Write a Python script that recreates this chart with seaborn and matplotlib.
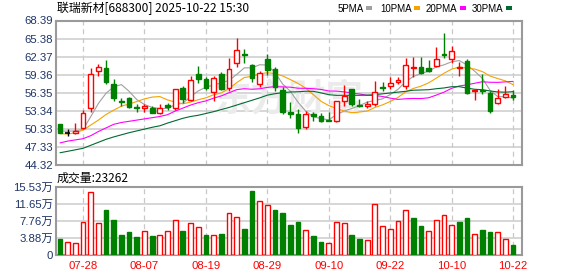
import numpy as np
import pandas as pd
import matplotlib
matplotlib.use("Agg")
import matplotlib.pyplot as plt
from matplotlib.patches import Rectangle
import seaborn as sns

# ---------------- data ----------------
dates = ['07-23', '07-24', '07-25', '07-28', '07-29', '07-30', '07-31', '08-01', '08-04', '08-05',
         '08-06', '08-07', '08-08', '08-11', '08-12', '08-13', '08-14', '08-15', '08-18', '08-19',
         '08-20', '08-21', '08-22', '08-25', '08-26', '08-27', '08-28', '08-29', '09-01', '09-02',
         '09-03', '09-04', '09-05', '09-08', '09-09', '09-10', '09-11', '09-12', '09-15', '09-16',
         '09-17', '09-18', '09-19', '09-22', '09-23', '09-24', '09-25', '09-26', '09-29', '09-30',
         '10-09', '10-10', '10-13', '10-14', '10-15', '10-16', '10-17', '10-20', '10-21', '10-22']

open_ = [51.13, 49.62, 49.64, 50.42, 53.84, 59.98, 60.48, 57.73, 54.95, 55.40,
         53.96, 53.85, 53.79, 53.01, 54.29, 53.84, 57.16, 55.07, 59.55, 58.60,
         56.50, 59.55, 57.16, 61.38, 62.87, 61.05, 57.83, 61.93, 60.27, 56.73,
         53.07, 52.74, 50.58, 52.84, 52.46, 51.80, 51.68, 55.00, 56.94, 54.30,
         54.17, 54.50, 57.33, 57.44, 58.22, 57.50, 60.49, 60.60, 60.48, 60.82,
         62.87, 62.04, 60.43, 61.60, 56.66, 56.78, 56.33, 54.57, 55.61, 55.95]
high = [51.20, 50.25, 51.25, 53.46, 60.55, 61.21, 61.76, 58.60, 55.50, 55.67,
        54.50, 54.50, 54.17, 54.40, 54.73, 57.00, 57.44, 59.10, 60.76, 58.99,
        59.10, 59.82, 62.21, 65.47, 63.70, 61.21, 59.98, 62.76, 60.65, 57.33,
        54.84, 53.62, 53.29, 53.07, 52.91, 53.17, 55.05, 57.61, 57.00, 55.28,
        54.95, 58.27, 58.16, 58.99, 58.99, 62.15, 62.26, 62.26, 61.81, 63.92,
        66.30, 64.09, 61.48, 62.04, 56.90, 59.55, 56.61, 57.06, 57.44, 56.78]
low = [49.60, 49.14, 49.42, 50.25, 53.07, 59.15, 57.73, 54.95, 54.12, 53.79,
       53.17, 53.07, 52.91, 52.74, 53.46, 53.50, 54.65, 54.95, 58.06, 56.73,
       55.00, 56.78, 56.61, 60.65, 61.38, 58.16, 57.28, 59.39, 56.60, 52.74,
       52.18, 49.59, 50.25, 51.68, 51.41, 51.68, 51.51, 54.12, 54.12, 53.90,
       53.84, 54.17, 56.66, 56.94, 57.89, 56.94, 58.99, 59.55, 59.82, 60.71,
       62.21, 61.38, 59.15, 56.23, 55.12, 56.23, 52.91, 54.50, 55.50, 55.12]
close = [49.62, 49.62, 50.02, 53.01, 59.55, 60.65, 58.16, 55.40, 54.80, 53.96,
         53.74, 54.07, 53.01, 53.84, 54.02, 56.94, 55.28, 58.44, 58.60, 57.16,
         58.82, 57.06, 60.38, 63.54, 62.71, 58.82, 59.65, 60.10, 57.33, 53.07,
         52.84, 50.52, 52.74, 52.51, 51.68, 51.70, 54.95, 55.83, 54.45, 54.20,
         54.50, 56.40, 57.16, 58.06, 58.44, 60.93, 60.71, 59.65, 59.98, 62.04,
         62.64, 63.26, 60.65, 56.33, 56.83, 56.70, 53.29, 55.45, 56.11, 55.73]
# volume in 万 (10k)
volume = [3.65, 2.89, 2.66, 7.46, 14.30, 7.23, 10.27, 7.99, 4.56, 5.17,
          4.11, 5.40, 4.34, 4.49, 5.48, 7.91, 5.48, 7.23, 6.31, 4.56,
          4.49, 4.79, 9.51, 8.60, 5.93, 14.60, 12.25, 11.41, 10.27, 9.59,
          6.85, 7.53, 5.63, 4.34, 2.97, 2.66, 7.46, 7.23, 4.56, 3.65,
          3.35, 11.56, 6.54, 5.93, 7.68, 10.19, 8.44, 6.62, 5.40, 7.91,
          9.05, 6.77, 7.53, 8.44, 4.72, 5.63, 5.25, 5.17, 3.58, 2.3262]

# moving-average values before a full window exists
ma5_head = [50.00, 49.95, 50.00, 50.25]
ma10_head = [49.55, 49.46, 49.70, 50.13, 50.97, 51.80, 52.74, 53.46, 54.12]
ma20_head = [48.00, 48.30, 48.50, 48.70, 49.20, 49.90, 50.50, 51.10, 51.40, 51.60,
             51.80, 52.00, 52.20, 52.40, 52.70, 53.30, 53.80, 54.30, 54.70]
ma30_head = [46.36, 46.60, 46.85, 47.10, 47.60, 48.10, 48.60, 49.00, 49.35, 49.70,
             50.00, 50.30, 50.60, 50.85, 51.30, 51.70, 52.10, 52.40, 52.60, 52.90,
             53.20, 53.55, 53.90, 54.30, 54.70, 55.10, 55.50, 55.95, 56.20]

price_ticks = [44.32, 47.33, 50.33, 53.34, 56.35, 59.36, 62.37, 65.38, 68.39]
price_tick_labels = ['44.32', '47.33', '50.33', '53.34', '56.35', '59.36', '62.37', '65.38', '68.39']
vol_ticks = [0, 3.88, 7.76, 11.65, 15.53]
vol_tick_labels = ['0', '3.88万', '7.76万', '11.65万', '15.53万']
date_tick_idx = [3, 11, 19, 27, 35, 43, 51, 59]

title_text = '联瑞新材[688300] 2025-10-22 15:30'
vol_title = '成交量:23262'
ma_names = ['5PMA', '10PMA', '20PMA', '30PMA']

# ---------------- style ----------------
sns.set_style('white')
plt.rcParams['font.family'] = ['Liberation Sans', 'Noto Sans CJK SC']
plt.rcParams['axes.unicode_minus'] = False

RED = '#ff0000'
GREEN = '#008000'
MA_COLORS = ['#a0a0a0', '#f5a300', '#ff00ff', '#006a30']
TICK_COLOR = '#1e3466'
GRID = '#cccccc'
FRAME = '#9a9a9a'

o = np.array(open_); h = np.array(high); l = np.array(low); c = np.array(close)
v = np.array(volume)
n = len(c)
x = np.arange(n)

cs = pd.Series(c)
def ma(period, head):
    s = cs.rolling(period).mean().to_numpy()
    s[:period - 1] = head
    return s

mas = [ma(5, ma5_head), ma(10, ma10_head), ma(20, ma20_head), ma(30, ma30_head)]
df_ma = pd.DataFrame({'x': np.tile(x, 4),
                      'val': np.concatenate(mas),
                      'ma': np.repeat(ma_names, n)})

W, H = 578, 276
fig = plt.figure(figsize=(W / 100, H / 100), dpi=100)
L, R = 56, 522
ax = fig.add_axes([L / W, 1 - 165 / H, (R - L) / W, (165 - 20.5) / H])
axv = fig.add_axes([L / W, 1 - 255 / H, (R - L) / W, (255 - 187) / H])

xlim = (-0.52, 60.16)

for a in (ax, axv):
    a.set_xlim(*xlim)
    for sp in a.spines.values():
        sp.set_color(FRAME)
        sp.set_linewidth(1.5)
    a.tick_params(length=0, labelsize=8.2, colors=TICK_COLOR, pad=2)
    for xi in date_tick_idx:
        a.axvline(xi, color='#c8c8c8', lw=0.9, ls=(0, (4, 3)), zorder=0)

# price axis grid
ax.set_ylim(44.32, 68.39)
ax.set_yticks(price_ticks)
ax.set_yticklabels(price_tick_labels)
for t in price_ticks[1:-1]:
    ax.axhline(t, color=GRID, lw=1.1, zorder=0)
ax.set_xticks([])

# watermark
ax.text(0.5, 0.45, '东方财富', transform=ax.transAxes, ha='center', va='center',
        fontsize=27, color='#ebebeb', family=['Noto Sans CJK SC'], fontweight='bold', zorder=0.5)

# MA lines via seaborn
sns.lineplot(data=df_ma, x='x', y='val', hue='ma', palette=dict(zip(ma_names, MA_COLORS)),
             ax=ax, lw=0.8, legend=False, zorder=2, estimator=None, sort=False)
ax.set_xlabel('')
ax.set_ylabel('')

# candles
up = c > o
dn = c < o
fl = c == o
bw = 0.62
ax.vlines(x[up], l[up], h[up], color=RED, lw=1.0, zorder=3)
ax.vlines(x[dn], l[dn], h[dn], color=GREEN, lw=1.0, zorder=3)
ax.vlines(x[fl], l[fl], h[fl], color='black', lw=1.0, zorder=3)
bot = np.minimum(o, c)
hgt = np.maximum(np.abs(c - o), 0.12)
ax.bar(x[up], hgt[up], bottom=bot[up], width=bw, facecolor='white', edgecolor=RED, lw=1.0, zorder=4)
ax.bar(x[dn], hgt[dn], bottom=bot[dn], width=bw, facecolor=GREEN, edgecolor=GREEN, lw=1.0, zorder=4)
ax.hlines(c[fl], x[fl] - bw / 2, x[fl] + bw / 2, color='black', lw=1.2, zorder=4)

# volume
prev = np.concatenate([[o[0]], c[:-1]])
vup = c >= prev
axv.set_ylim(0, 15.53)
axv.set_yticks(vol_ticks)
axv.set_yticklabels(vol_tick_labels)
for t in vol_ticks[1:-1]:
    axv.axhline(t, color=GRID, lw=1.1, zorder=0)
axv.bar(x[vup], v[vup], width=bw, facecolor='white', edgecolor=RED, lw=1.0, zorder=3)
axv.bar(x[~vup], v[~vup], width=bw, facecolor=GREEN, edgecolor=GREEN, lw=1.0, zorder=3)
axv.set_xticks(date_tick_idx)
axv.set_xticklabels([dates[i] for i in date_tick_idx])
axv.tick_params(axis='x', colors=RED, pad=4)

# titles
fig.text(57 / W, 1 - 8 / H, title_text, fontsize=8.6, va='center', ha='left',
         family=['Noto Sans CJK SC'], color='black')
fig.text(57 / W, 1 - 178 / H, vol_title, fontsize=8.6, va='center', ha='left',
         family=['Noto Sans CJK SC'], color='black')

# legend: text followed by a small coloured square
leg_x = [338, 380, 426, 472]
fig.canvas.draw()
renderer = fig.canvas.get_renderer()
for name, col, lx in zip(ma_names, MA_COLORS, leg_x):
    t = fig.text(lx / W, 1 - 8.5 / H, name, fontsize=7.0, va='center', ha='left', color='black')
    bb = t.get_window_extent(renderer=renderer)
    sx = bb.x1 + 2
    fig.patches.append(Rectangle((sx / W, 1 - 10 / H), 6 / W, 3.5 / H, transform=fig.transFigure,
                                 facecolor=col, edgecolor='none'))

fig.savefig('out.png', dpi=100)
